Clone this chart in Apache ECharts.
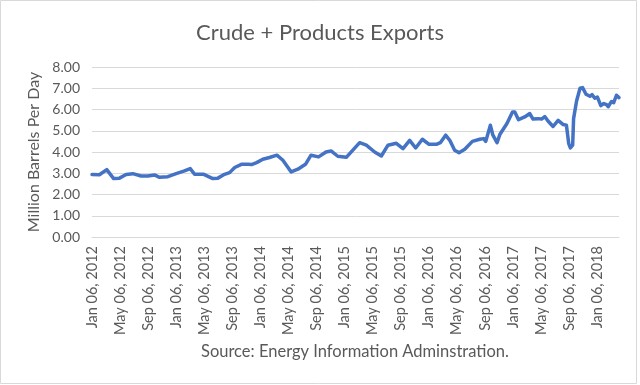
<!DOCTYPE html>
<html>
<head>
<meta charset="utf-8">
<script src="https://cdn.jsdelivr.net/npm/echarts@6/dist/echarts.min.js"></script>
<style>
html,body{margin:0;padding:0;background:#fff;}
#c{width:640px;height:385px;}
</style>
</head>
<body>
<div id="c"></div>
<script>
var dates = ['2012-01-06','2012-02-07','2012-03-10','2012-04-09','2012-05-04','2012-06-02','2012-07-01','2012-08-06','2012-09-04','2012-10-03','2012-10-25','2012-11-30',
'2013-01-05','2013-02-10','2013-03-07','2013-03-26','2013-05-05','2013-06-13','2013-07-05','2013-08-03','2013-08-25','2013-09-16','2013-10-15','2013-11-13','2013-11-28','2013-12-20',
'2014-01-16','2014-02-14','2014-03-18','2014-04-13','2014-05-19','2014-06-17','2014-07-20','2014-08-13','2014-09-15','2014-10-17','2014-11-08','2014-12-07',
'2015-01-13','2015-03-12','2015-04-10','2015-05-16','2015-06-14','2015-07-13','2015-08-18','2015-09-16','2015-10-15','2015-11-10','2015-12-09',
'2016-01-07','2016-02-08','2016-02-25','2016-03-19','2016-04-06','2016-04-27','2016-05-16','2016-06-10','2016-07-13','2016-08-14','2016-08-31','2016-09-09','2016-09-29','2016-10-10','2016-10-28','2016-11-09','2016-12-10',
'2017-01-03','2017-01-13','2017-01-29','2017-02-25','2017-03-19','2017-04-02','2017-04-24','2017-05-09','2017-05-23','2017-06-06','2017-06-28','2017-07-20','2017-08-11','2017-08-25','2017-09-04','2017-09-11','2017-09-21','2017-09-25','2017-10-08','2017-10-23','2017-11-03','2017-11-18','2017-12-05','2017-12-14','2017-12-26',
'2018-01-06','2018-01-21','2018-02-03','2018-02-15','2018-02-22','2018-03-08','2018-03-18','2018-03-30','2018-04-10'];
var exportsMbd = [2.94,2.93,3.17,2.75,2.77,2.94,2.98,2.87,2.87,2.92,2.81,2.84,
2.98,3.11,3.22,2.95,2.95,2.75,2.77,2.95,3.03,3.27,3.42,3.42,3.41,3.50,
3.66,3.74,3.85,3.61,3.06,3.19,3.42,3.85,3.77,4.00,4.05,3.80,
3.75,4.44,4.32,4.00,3.81,4.32,4.41,4.16,4.55,4.19,4.60,
4.36,4.36,4.44,4.79,4.55,4.08,3.97,4.13,4.50,4.60,4.63,4.50,5.26,4.79,4.44,4.82,5.34,
5.88,5.88,5.52,5.65,5.81,5.55,5.57,5.55,5.67,5.46,5.20,5.49,5.29,5.26,4.39,4.19,4.32,5.57,6.40,7.00,7.03,6.72,6.62,6.70,6.53,
6.59,6.18,6.28,6.23,6.13,6.37,6.32,6.67,6.56];
var tickDates = ['2012-01-06','2012-05-06','2012-09-06','2013-01-06','2013-05-06','2013-09-06','2014-01-06','2014-05-06','2014-09-06',
'2015-01-06','2015-05-06','2015-09-06','2016-01-06','2016-05-06','2016-09-06','2017-01-06','2017-05-06','2017-09-06','2018-01-06'];
var monthNames = ['Jan','Feb','Mar','Apr','May','Jun','Jul','Aug','Sep','Oct','Nov','Dec'];

function toTs(s){var p=s.split('-');return Date.UTC(+p[0],+p[1]-1,+p[2]);}
function fmt(v){var d=new Date(v);var dd=d.getUTCDate();return monthNames[d.getUTCMonth()]+' '+(dd<10?'0':'')+dd+', '+d.getUTCFullYear();}

var seriesData = dates.map(function(d,i){return [toTs(d), exportsMbd[i]];});
var tickTs = tickDates.map(toTs);

var chart = echarts.init(document.getElementById('c'));
var font = 'Lato, "Open Sans", sans-serif';
chart.setOption({
  animation:false,
  backgroundColor:'#fff',
  title:{text:'Crude + Products Exports',left:'center',top:17,
    textStyle:{fontFamily:font,fontSize:22,fontWeight:'normal',color:'#595959'}},
  graphic:[
    {type:'rect',shape:{x:0.5,y:0.5,width:636,height:383},style:{fill:'none',stroke:'#d9d9d9',lineWidth:1},silent:true},
    {type:'text',left:201,top:343,style:{text:'Source: Energy Information Adminstration.',font:'16.5px '+font,fill:'#595959'}}
  ],
  grid:{left:92,right:21,top:67,bottom:148,containLabel:false},
  xAxis:{type:'value',min:toTs(dates[0]),max:toTs(dates[dates.length-1]),scale:true,
    axisLine:{show:true,onZero:false,lineStyle:{color:'#d9d9d9'}},
    axisTick:{show:false},
    splitLine:{show:false},
    axisLabel:{customValues:tickTs,rotate:90,margin:9,color:'#595959',fontFamily:font,fontSize:14.5,
      formatter:function(v){return fmt(v);}}
  },
  yAxis:{type:'value',min:0,max:8,interval:1,
    name:'Million Barrels Per Day',nameLocation:'middle',nameGap:50,
    nameTextStyle:{fontFamily:font,fontSize:16,color:'#595959'},
    axisLine:{show:false},axisTick:{show:false},
    splitLine:{lineStyle:{color:'#d9d9d9',width:1}},
    axisLabel:{color:'#595959',fontFamily:font,fontSize:14,margin:12,formatter:function(v){return v.toFixed(2);}}
  },
  series:[{type:'line',data:seriesData,showSymbol:false,symbol:'none',
    lineStyle:{color:'#4472C4',width:3.5,join:'round',cap:'round'}}]
});
</script>
</body>
</html>
